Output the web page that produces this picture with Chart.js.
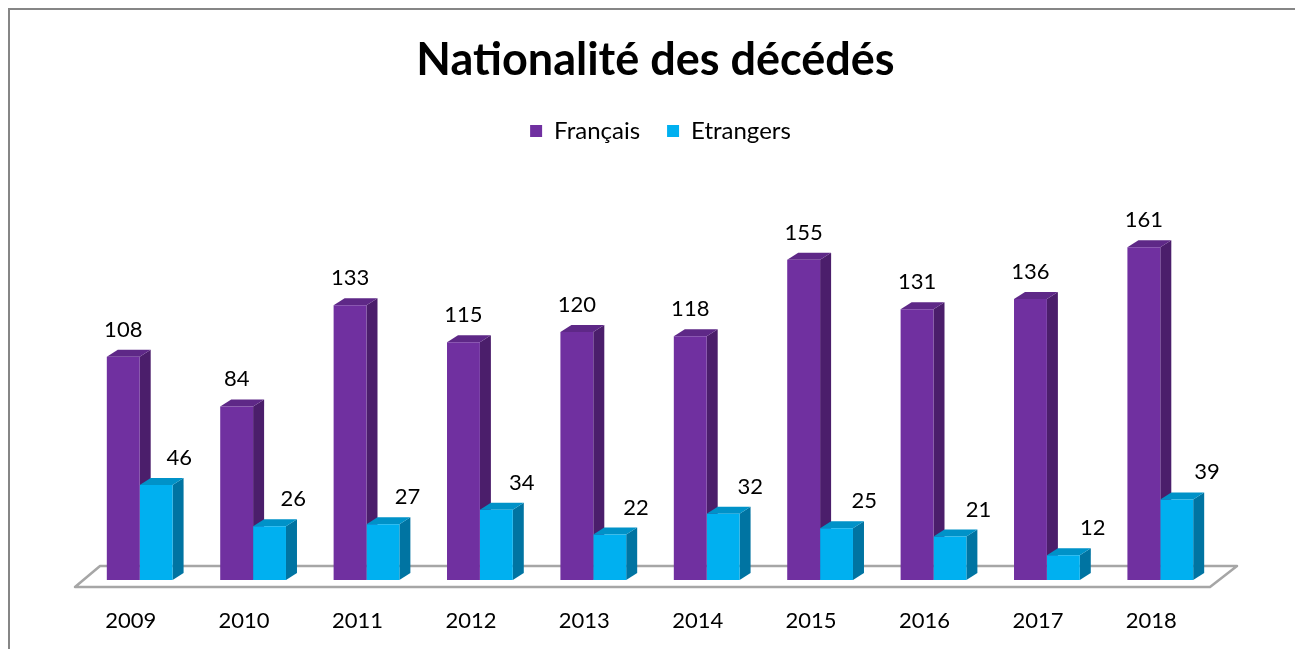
<!DOCTYPE html>
<html>
<head>
<meta charset="utf-8">
<script src="https://cdn.jsdelivr.net/npm/chart.js@4/dist/chart.umd.min.js"></script>
<style>
html,body{margin:0;padding:0;background:#fff;}
#wrap{position:absolute;left:0;top:0;width:1295px;height:649px;}
</style>
</head>
<body>
<div id="wrap"><canvas id="c" width="1295" height="649"></canvas></div>
<script>
const categories = ['2009','2010','2011','2012','2013','2014','2015','2016','2017','2018'];
const francais = [108, 84, 133, 115, 120, 118, 155, 131, 136, 161];
const etrangers = [46, 26, 27, 34, 22, 32, 25, 21, 12, 39];
const seriesNames = ['Français', 'Etrangers'];

const FONT = 'Lato, "Open Sans", sans-serif';
const front = ['#7030A0', '#00B0F0'];
const side = ['#4B1E6B', '#0074A2'];
const top_ = ['#5E2887', '#0092C8'];
const DX = 11, DY = -7;

const frame = {
  id: 'frame',
  beforeDraw(chart) {
    const ctx = chart.ctx;
    ctx.save();
    ctx.fillStyle = '#fff';
    ctx.fillRect(0, 0, chart.width, chart.height);
    ctx.strokeStyle = '#868686';
    ctx.lineWidth = 2;
    ctx.beginPath();
    ctx.moveTo(9, chart.height);
    ctx.lineTo(9, 9);
    ctx.lineTo(chart.width, 9);
    ctx.stroke();
    ctx.restore();
  },
  afterLayout(chart) {
    if (chart.legend) {
      chart.legend.left += 5;
      chart.legend.right += 5;
    }
  }
};

const bars3d = {
  id: 'bars3d',
  beforeDatasetsDraw(chart) {
    const ctx = chart.ctx;
    const a = chart.chartArea;
    const b = a.bottom;
    ctx.save();
    // floor
    ctx.beginPath();
    ctx.moveTo(a.left - 8, b + 7);
    ctx.lineTo(a.left + 17, b - 14);
    ctx.lineTo(a.right + 20, b - 14);
    ctx.lineTo(a.right - 7, b + 7);
    ctx.closePath();
    ctx.fillStyle = '#fff';
    ctx.fill();
    ctx.strokeStyle = '#A6A6A6';
    ctx.lineWidth = 2.5;
    ctx.lineJoin = 'round';
    ctx.stroke();
    const n = chart.data.labels.length;
    for (let i = 0; i < n; i++) {
      for (let d = 0; d < chart.data.datasets.length; d++) {
        const el = chart.getDatasetMeta(d).data[i];
        const {x, y, base, width} = el.getProps(['x','y','base','width'], true);
        const l = x - width / 2, r = x + width / 2;
        ctx.beginPath();
        ctx.moveTo(r, y);
        ctx.lineTo(r + DX, y + DY);
        ctx.lineTo(r + DX, base + DY);
        ctx.lineTo(r, base);
        ctx.closePath();
        ctx.fillStyle = side[d];
        ctx.fill();
        ctx.beginPath();
        ctx.moveTo(l, y);
        ctx.lineTo(l + DX, y + DY);
        ctx.lineTo(r + DX, y + DY);
        ctx.lineTo(r, y);
        ctx.closePath();
        ctx.fillStyle = top_[d];
        ctx.fill();
      }
    }
    ctx.restore();
  },
  afterDatasetsDraw(chart) {
    const ctx = chart.ctx;
    ctx.save();
    ctx.font = '22px ' + FONT;
    ctx.fillStyle = '#000';
    ctx.textAlign = 'center';
    ctx.textBaseline = 'middle';
    chart.data.datasets.forEach((ds, d) => {
      chart.getDatasetMeta(d).data.forEach((el, i) => {
        const off = d === 0 ? 0 : 23 + i * 0.8;
        ctx.fillText(String(ds.data[i]), el.x + off, el.y - 27);
      });
    });
    ctx.restore();
  }
};

new Chart(document.getElementById('c'), {
  type: 'bar',
  data: {
    labels: categories,
    datasets: [
      { label: seriesNames[0], data: francais, backgroundColor: front[0], borderWidth: 0 },
      { label: seriesNames[1], data: etrangers, backgroundColor: front[1], borderWidth: 0 }
    ]
  },
  options: {
    responsive: false,
    animation: false,
    events: [],
    layout: { padding: { left: 16, right: 0, top: 0, bottom: 0 } },
    datasets: { bar: { categoryPercentage: 0.58, barPercentage: 1 } },
    plugins: {
      title: {
        display: true,
        text: 'Nationalité des décédés',
        color: '#000',
        font: { family: FONT, size: 45, weight: 'bold' },
        padding: { top: 33.5, bottom: 4.5 }
      },
      legend: {
        display: true,
        labels: {
          color: '#000',
          font: { family: FONT, size: 24 },
          boxWidth: 12, boxHeight: 12,
          padding: 27
        }
      },
      tooltip: { enabled: false }
    },
    scales: {
      x: {
        grid: { display: false },
        border: { display: false },
        ticks: { color: '#000', font: { family: FONT, size: 22 }, labelOffset: -9, padding: 20, maxRotation: 0 },
        afterFit: s => { s.height = 69; }
      },
      xTop: {
        type: 'linear',
        position: 'top',
        min: 0, max: 1,
        display: true,
        grid: { display: false },
        border: { display: false },
        ticks: { display: false },
        afterFit: s => { s.height = 55; }
      },
      y: {
        min: 0, max: 180,
        display: true,
        grid: { display: false },
        border: { display: false },
        ticks: { display: false },
        afterFit: s => { s.width = 67; }
      },
      y2: {
        position: 'right',
        min: 0, max: 180,
        display: true,
        grid: { display: false },
        border: { display: false },
        ticks: { display: false },
        afterFit: s => { s.width = 78; }
      }
    }
  },
  plugins: [frame, bars3d]
});
</script>
</body>
</html>
